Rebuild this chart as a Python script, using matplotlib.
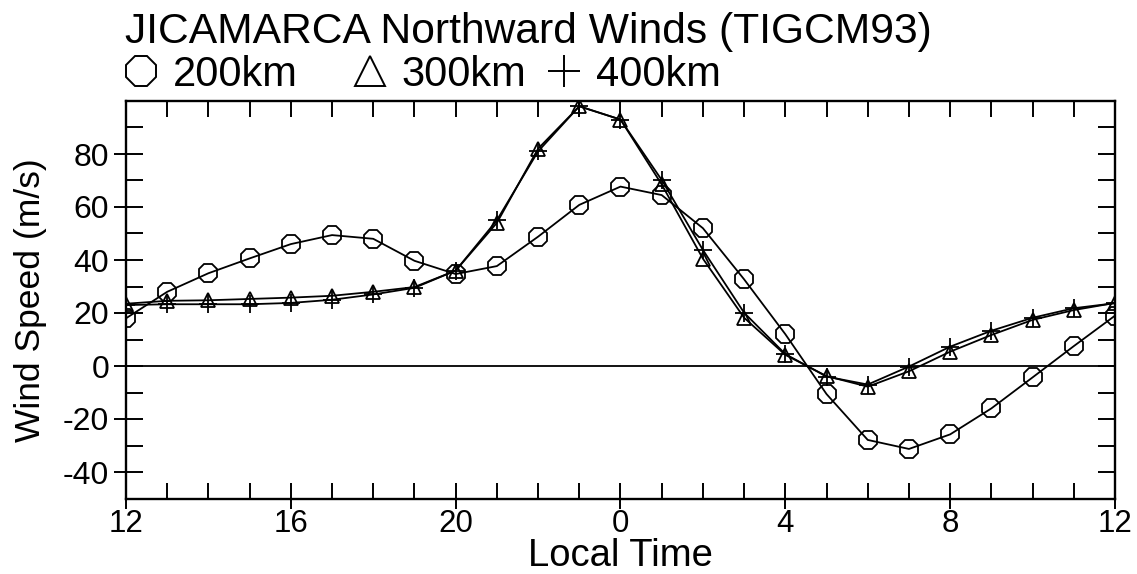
import numpy as np
import matplotlib
matplotlib.use("Agg")
import matplotlib.pyplot as plt
from matplotlib.lines import Line2D
from matplotlib.ticker import MultipleLocator, FixedLocator, FixedFormatter

# ---- data ----
hours = list(range(12, 37))  # local time 12 -> 12 next day
xtick_pos = [12, 16, 20, 24, 28, 32, 36]
xtick_labels = ["12", "16", "20", "0", "4", "8", "12"]
ytick_pos = [-40, -20, 0, 20, 40, 60, 80]

wind_200 = [18, 28, 35, 40.6, 46, 49.4, 48, 39.7, 34.7, 37.7, 48.8, 60.8, 67.7,
            64.5, 52, 32.7, 12, -10.6, -27.9, -31.3, -25.8, -16, -4.3, 7.5, 19]
wind_300 = [23.5, 24.6, 24.8, 25.3, 25.8, 26.5, 28, 29.8, 36, 54, 82, 98, 93,
            68.5, 40.5, 18.2, 4.2, -3.8, -7.8, -2, 5.4, 11.7, 17.4, 21.1, 23.8]
wind_400 = [23, 23.3, 23.3, 23.3, 23.8, 25, 27, 29.5, 36, 55, 81, 98, 93,
            70.2, 43.8, 20.1, 4.5, -4, -7, -0.2, 7.3, 13.3, 18.2, 21.8, 23.7]

title = "JICAMARCA Northward Winds (TIGCM93)"
labels = ["200km", "300km", "400km"]

plt.rcParams['font.family'] = ['Liberation Sans', 'DejaVu Sans']
plt.rcParams['axes.unicode_minus'] = False

W, H = 1137, 574
fig = plt.figure(figsize=(W / 100, H / 100), dpi=100)
ax = fig.add_axes([126 / W, 1 - 498.5 / H, (1115 - 126) / W, (498.5 - 101) / H])

lw = 1.3
ax.plot(hours, wind_200, color='black', lw=lw, marker='8', ms=13.5,
        mfc='none', mec='black', mew=1.3)
ax.plot(hours, wind_300, color='black', lw=lw, marker='^', ms=10.5,
        mfc='none', mec='black', mew=1.3)
ax.plot(hours, wind_400, color='black', lw=lw, marker='+', ms=12.5,
        mec='black', mew=1.3)
ax.axhline(0, color='black', lw=1.3)

ax.set_xlim(12, 36)
ax.set_ylim(-50, 100)

ax.xaxis.set_major_locator(FixedLocator(xtick_pos))
ax.xaxis.set_major_formatter(FixedFormatter(xtick_labels))
ax.xaxis.set_minor_locator(MultipleLocator(1))
ax.yaxis.set_major_locator(FixedLocator(ytick_pos))
ax.yaxis.set_minor_locator(MultipleLocator(10))
ax.xaxis.remove_overlapping_locs = False
ax.yaxis.remove_overlapping_locs = False

ax.tick_params(axis='x', which='major', direction='out', length=7, width=1.4,
               bottom=True, top=False, labelsize=22.5, pad=0.5)
ax.tick_params(axis='x', which='minor', direction='in', length=11.5, width=1.4,
               bottom=True, top=True)
ax.tick_params(axis='y', which='major', direction='out', length=9, width=1.4,
               left=True, right=False, labelsize=23, pad=3)
ax.tick_params(axis='y', which='minor', direction='in', length=12, width=1.4,
               left=True, right=True)
for s in ax.spines.values():
    s.set_linewidth(1.7)

ax.set_xlabel("Local Time", fontsize=27.5)
ax.xaxis.label.set_va('baseline')
ax.xaxis.set_label_coords(0.5, (498.5 - 566) / 397.5)
ax.set_ylabel("Wind Speed (m/s)", fontsize=25.5)
ax.yaxis.label.set_va('baseline')
ax.yaxis.set_label_coords((40 - 126) / 989, 0.5)

fig.text(125 / W, 1 - 43 / H, title, fontsize=30.7, ha='left', va='baseline')

handles = [
    Line2D([], [], ls='none', marker='8', ms=24, mfc='none', mec='black', mew=1.4),
    Line2D([], [], ls='none', marker='^', ms=21, mfc='none', mec='black', mew=1.4),
    Line2D([], [], ls='none', marker='+', ms=23, mec='black', mew=1.4),
]
x0s = [120, 349, 543]
for h, lab, x0 in zip(handles, labels, x0s):
    fig.legend(handles=[h], labels=[lab], loc='center left',
               bbox_to_anchor=(x0 / W, 1 - 74.5 / H), frameon=False,
               fontsize=30, borderpad=0, borderaxespad=0, handlelength=1.0,
               handletextpad=0.27)

fig.savefig("out.png", dpi=100)
